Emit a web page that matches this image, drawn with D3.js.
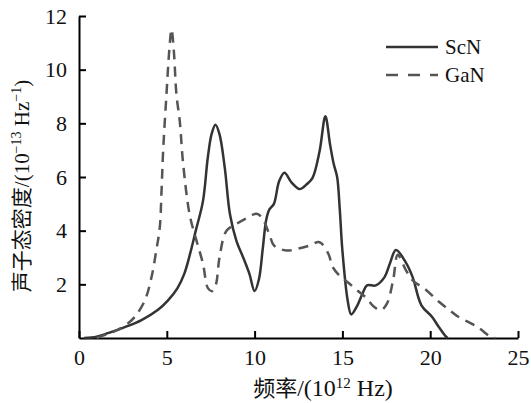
<!DOCTYPE html>
<html>
<head>
<meta charset="utf-8">
<script src="https://cdn.jsdelivr.net/npm/d3@7"></script>
<style>
  body { margin: 0; background: #fff; }
</style>
</head>
<body>
<div id="chart"></div>
<script>
// Data (frequency in 10^12 Hz, DOS in 10^-13 Hz^-1)
const scnFreq = [0.3, 1.0, 1.65, 2.5, 3.56, 4.5, 5.07, 5.6, 6.0, 6.35, 6.65, 7.06, 7.33, 7.55, 7.77, 8.0, 8.3, 8.6, 8.96, 9.35, 9.7, 10.0, 10.25, 10.46, 10.66, 10.85, 11.1, 11.4, 11.7, 12.1, 12.56, 13.0, 13.3, 13.7, 14.03, 14.3, 14.5, 14.7, 14.85, 15.0, 15.3, 15.5, 15.8, 16.15, 16.4, 16.9, 17.4, 17.7, 18.05, 18.6, 19.0, 19.5, 20.1, 20.5, 20.9, 21.0];
const scnDos  = [0, 0.05, 0.18, 0.38, 0.67, 1.05, 1.4, 1.85, 2.4, 3.2, 4.0, 5.1, 6.7, 7.6, 7.95, 7.6, 6.35, 4.6, 3.63, 3.0, 2.4, 1.75, 2.2, 3.3, 4.4, 4.8, 5.0, 5.85, 6.16, 5.8, 5.55, 5.75, 5.97, 6.96, 8.26, 7.2, 6.5, 6.0, 4.8, 3.26, 1.4, 0.88, 1.15, 1.66, 1.96, 1.96, 2.27, 2.77, 3.28, 2.83, 2.27, 1.22, 0.79, 0.4, 0.05, 0];

const ganFreq = [1.0, 1.76, 2.2, 2.8, 3.18, 3.75, 4.13, 4.4, 4.6, 4.7, 4.79, 4.98, 5.15, 5.27, 5.4, 5.55, 5.74, 5.93, 6.3, 6.69, 7.06, 7.35, 7.6, 7.8, 8.0, 8.4, 8.96, 9.5, 10.1, 10.4, 10.85, 11.1, 11.8, 12.4, 13.1, 13.7, 14.2, 14.45, 14.83, 15.3, 15.8, 16.35, 16.8, 17.2, 17.55, 17.9, 18.15, 18.6, 19.0, 19.75, 20.5, 21.1, 21.6, 22.4, 22.8, 23.5, 23.7];
const ganDos  = [0, 0.18, 0.3, 0.55, 0.79, 1.4, 2.27, 3.26, 4.12, 5.48, 6.96, 9.07, 10.8, 11.5, 10.7, 9.07, 8.07, 6.5, 4.6, 3.63, 2.77, 1.85, 1.75, 2.0, 3.0, 4.0, 4.25, 4.45, 4.63, 4.5, 3.85, 3.45, 3.26, 3.32, 3.44, 3.57, 3.14, 2.64, 2.33, 2.08, 1.8, 1.5, 1.16, 1.04, 1.3, 2.2, 3.1, 2.55, 2.15, 1.8, 1.35, 1.04, 0.79, 0.52, 0.36, 0.02, 0];

const xTicks = [0, 5, 10, 15, 20, 25];
const yTicks = [2, 4, 6, 8, 10, 12];
const seriesNames = ["ScN", "GaN"];

const FONT = '"Liberation Serif", "Times New Roman", "Noto Sans CJK SC", serif';

const width = 531, height = 403;
const margins = { top: 16, right: 13, bottom: 65, left: 79 };
const innerWidth = width - margins.left - margins.right;
const innerHeight = height - margins.top - margins.bottom;

const series = [
  { name: seriesNames[0], dash: null, color: "#333",
    values: scnFreq.map((f, i) => ({ x: f, y: scnDos[i] })) },
  { name: seriesNames[1], dash: "10,7", color: "#555",
    values: ganFreq.map((f, i) => ({ x: f, y: ganDos[i] })) }
];

const xScale = d3.scaleLinear().domain([0, 25]).range([0, innerWidth]);
const yScale = d3.scaleLinear().domain([0, 12]).range([innerHeight, 0]);

const svg = d3.select("#chart").append("svg")
  .attr("width", width)
  .attr("height", height)
  .attr("font-family", FONT);

const g = svg.append("g")
  .attr("transform", `translate(${margins.left}, ${margins.top})`);

// Axes, ticks pointing inward
const xAxis = d3.axisBottom(xScale)
  .tickValues(xTicks)
  .tickSizeInner(-7)
  .tickSizeOuter(0)
  .tickPadding(11);

const yAxis = d3.axisLeft(yScale)
  .tickValues(yTicks)
  .tickSizeInner(-7)
  .tickSizeOuter(0)
  .tickPadding(12);

const gx = g.append("g")
  .attr("transform", `translate(0, ${innerHeight})`)
  .call(xAxis);

const gy = g.append("g").call(yAxis);

[gx, gy].forEach(ax => {
  ax.attr("font-family", FONT).attr("font-size", 22);
  ax.select(".domain").attr("stroke", "#000").attr("stroke-width", 2);
  ax.selectAll(".tick line").attr("stroke", "#000").attr("stroke-width", 2);
  ax.selectAll(".tick text")
    .attr("fill", "#111")
    .attr("font-family", FONT)
    .attr("font-size", 22);
});

// Lines
const line = d3.line()
  .x(d => xScale(d.x))
  .y(d => yScale(d.y))
  .curve(d3.curveCatmullRom.alpha(0.5));

g.selectAll("path.series")
  .data(series)
  .enter()
  .append("path")
  .attr("class", "series")
  .attr("d", d => line(d.values))
  .attr("fill", "none")
  .attr("stroke", d => d.color)
  .attr("stroke-width", 2.5)
  .attr("stroke-dasharray", d => d.dash);

// Legend
const legend = svg.append("g").attr("transform", "translate(386, 47)");
const items = legend.selectAll("g.item")
  .data(series)
  .enter()
  .append("g")
  .attr("class", "item")
  .attr("transform", (d, i) => `translate(0, ${i * 28})`);

items.append("line")
  .attr("x1", 0).attr("x2", 52)
  .attr("y1", 0).attr("y2", 0)
  .attr("stroke", d => d.color)
  .attr("stroke-width", 2.5)
  .attr("stroke-dasharray", d => d.dash ? "12,10" : null);

items.append("text")
  .attr("x", 59)
  .attr("dy", "0.35em")
  .attr("fill", "#111")
  .attr("font-size", 21)
  .text(d => d.name);

// Axis titles
const xTitle = svg.append("text")
  .attr("x", 323)
  .attr("y", 396)
  .attr("text-anchor", "middle")
  .attr("fill", "#111")
  .attr("font-size", 22);
xTitle.append("tspan").text("频率");
xTitle.append("tspan").attr("font-size", 24).text("/(10");
xTitle.append("tspan").attr("dy", -8).attr("font-size", 15).text("12");
xTitle.append("tspan").attr("dy", 8).attr("font-size", 24).text(" Hz)");

const yTitle = svg.append("text")
  .attr("transform", "translate(29, 186) rotate(-90)")
  .attr("text-anchor", "middle")
  .attr("fill", "#111")
  .attr("font-size", 21);
yTitle.append("tspan").text("声子态密度/(10");
yTitle.append("tspan").attr("dy", -8).attr("font-size", 14).text("−13");
yTitle.append("tspan").attr("dy", 8).text(" Hz");
yTitle.append("tspan").attr("dy", -8).attr("font-size", 14).text("−1");
yTitle.append("tspan").attr("dy", 8).text(")");
</script>
</body>
</html>
